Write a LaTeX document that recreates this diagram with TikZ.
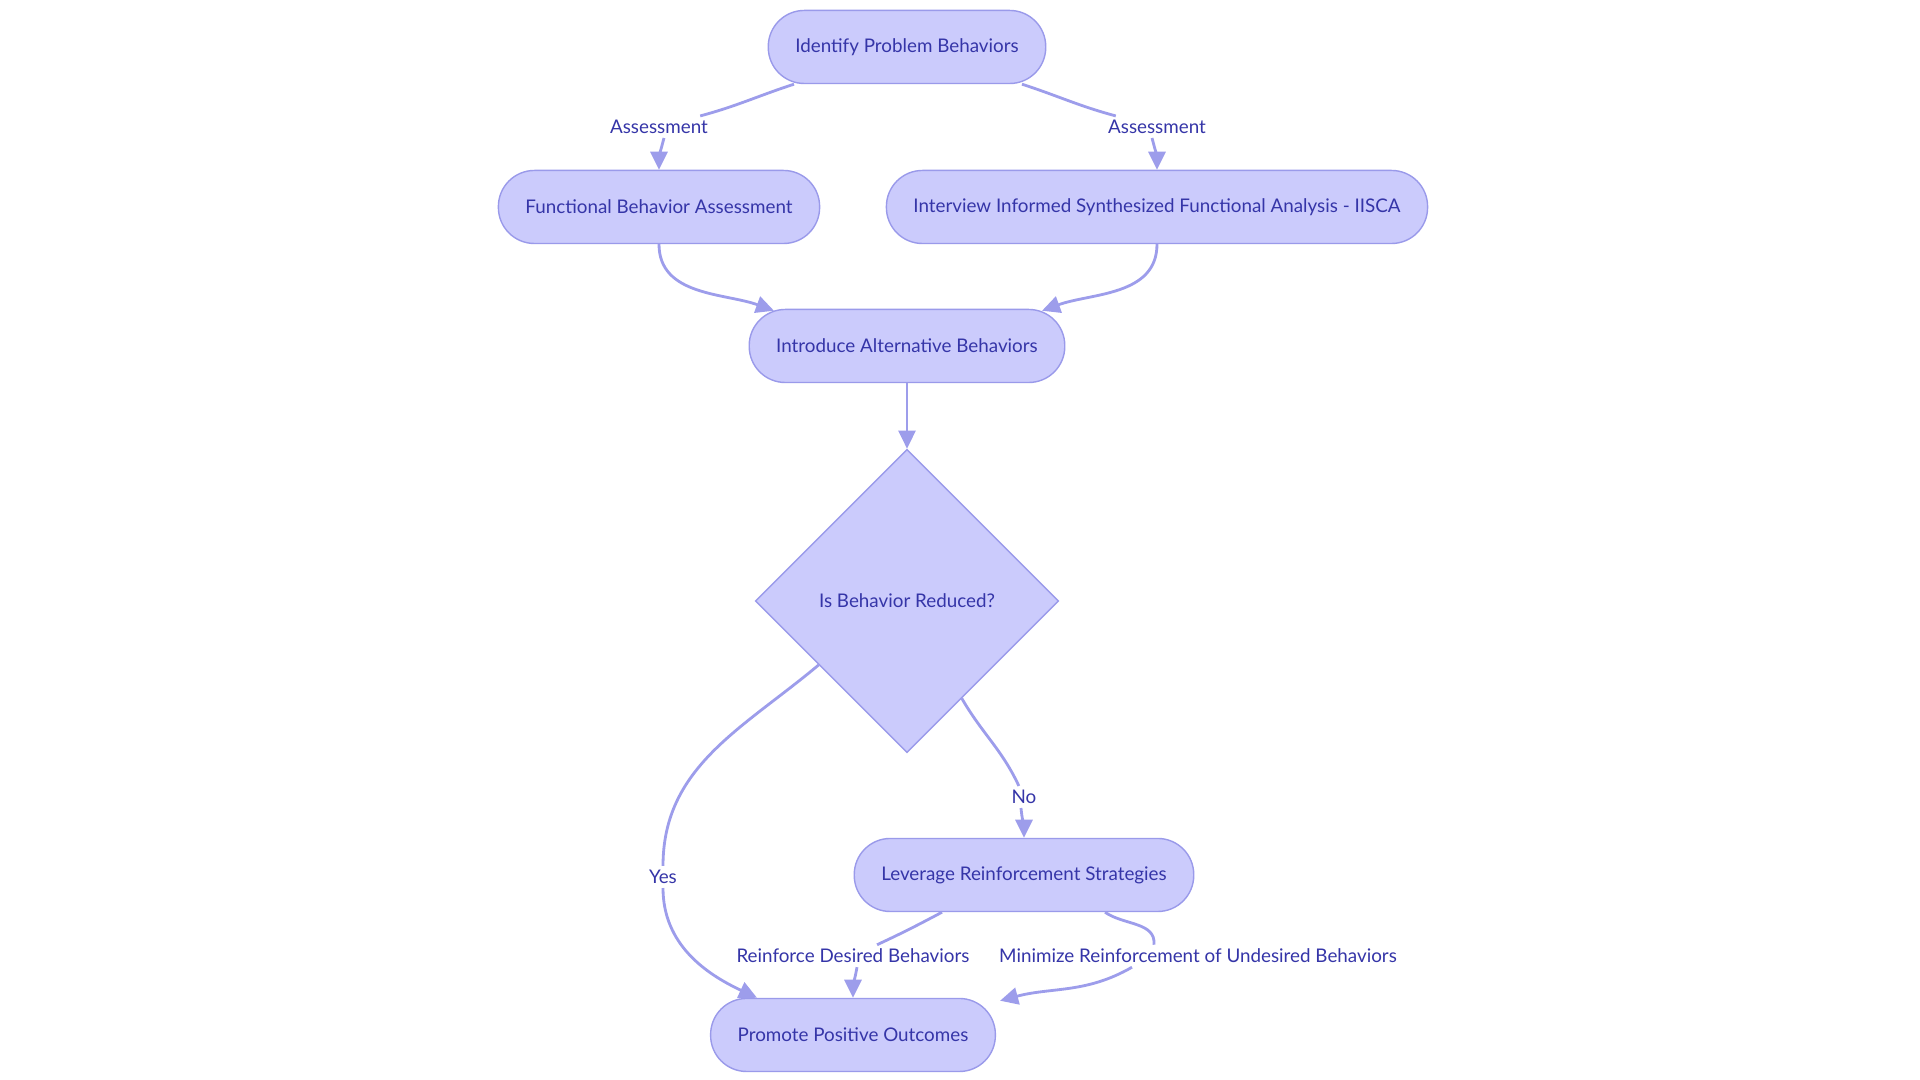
\documentclass[tikz,border=0pt]{standalone}
\usepackage{fontspec}
\setmainfont{Lato}
\usetikzlibrary{shapes.geometric,arrows.meta,calc}
\definecolor{boxfill}{HTML}{CBCBFC}
\definecolor{boxline}{HTML}{9A9AEA}
\definecolor{edgeline}{HTML}{9D9DEB}
\definecolor{boxtext}{HTML}{3535A8}
\tikzset{>={Triangle[length=0.18cm, width=0.17cm]}}
\tikzset{
    flowbox/.style={draw=boxline, fill=boxfill, text=boxtext, line width=0.4pt, rounded corners=0.36cm,
        minimum height=0.73cm, inner xsep=0.27cm, font=\fontsize{5.35}{7}\selectfont},
    flowdec/.style={draw=boxline, fill=boxfill, text=boxtext, line width=0.4pt, diamond, aspect=1,
        minimum size=3.03cm, inner sep=0pt, font=\fontsize{5.35}{7}\selectfont},
    flowlbl/.style={text=boxtext, fill=white, inner sep=1pt, font=\fontsize{5.35}{7}\selectfont},
    flowedge/.style={->, draw=edgeline, line width=0.8pt},
}

\begin{document}
\begin{tikzpicture}[x=0.01cm, y=0.01cm]
    \useasboundingbox(0, 0)rectangle(1920, 1080);
    \node[flowbox](ipb)at(907, 1033){Identify Problem Behaviors};
    \node[flowbox](fba)at(659, 873){Functional Behavior Assessment};
    \node[flowbox](iisca)at(1157, 873){Interview Informed Synthesized Functional Analysis - IISCA};
    \node[flowbox](iab)at(907, 734){Introduce Alternative Behaviors};
    \node[flowdec](dec)at(907, 479){Is Behavior Reduced?};
    \node[flowbox](lrs)at(1024, 205){Leverage Reinforcement Strategies};
    \node[flowbox](ppo)at(853, 45){Promote Positive Outcomes};
    % edge labels
    \node[flowlbl](la1)at(659, 953){Assessment};
    \node[flowlbl](la2)at(1157, 953){Assessment};
    \node[flowlbl](lno)at(1024, 283){No};
    \node[flowlbl](lyes)at(663, 203){Yes};
    \node[flowlbl](lrd)at(853, 124){Reinforce Desired Behaviors};
    \node[flowlbl](lmr)at(1198, 124){Minimize Reinforcement of Undesired Behaviors};
    \draw[flowedge]($(ipb.south)+(-113, 0)$)to[out=-162, in=15](la1)($(la1.south)+(5, 0)$)to[out=-105, in=90](fba);
    \draw[flowedge]($(ipb.south)+(115, 0)$)to[out=-18, in=165](la2)($(la2.south)+(-5, 0)$)to[out=-75, in=90](iisca);
    \draw[flowedge](fba.south)to[out=-90, in=160]($(iab.north)+(-133, -2)$);
    \draw[flowedge](iisca.south)to[out=-90, in=20]($(iab.north)+(135, -2)$);
    \draw[flowedge](iab)--(dec);
    \draw[flowedge]($(dec.west)!.42!(dec.south)$)to[out=-140, in=90](lyes)(lyes)to[out=-90, in=155]($(ppo.north)+(-96, 0)$);
    \draw[flowedge]($(dec.east)!.64!(dec.south)$)to[out=-60, in=115](lno)($(lno.south)+(-3, 0)$)to[out=-85, in=90](lrs);
    \draw[flowedge]($(lrs.south)+(-82, 0)$)to[out=-152, in=25](lrd)($(lrd.south)+(4, 0)$)to[out=-100, in=90](ppo);
    \draw[flowedge]($(lrs.south)+(81, 0)$)to[out=-35, in=85]($(lmr.north)+(-44, 0)$)($(lmr.south)+(-66, 0)$)to[out=-150, in=15]($(ppo.north east)+(4, -3)$);
\end{tikzpicture}
\end{document}
